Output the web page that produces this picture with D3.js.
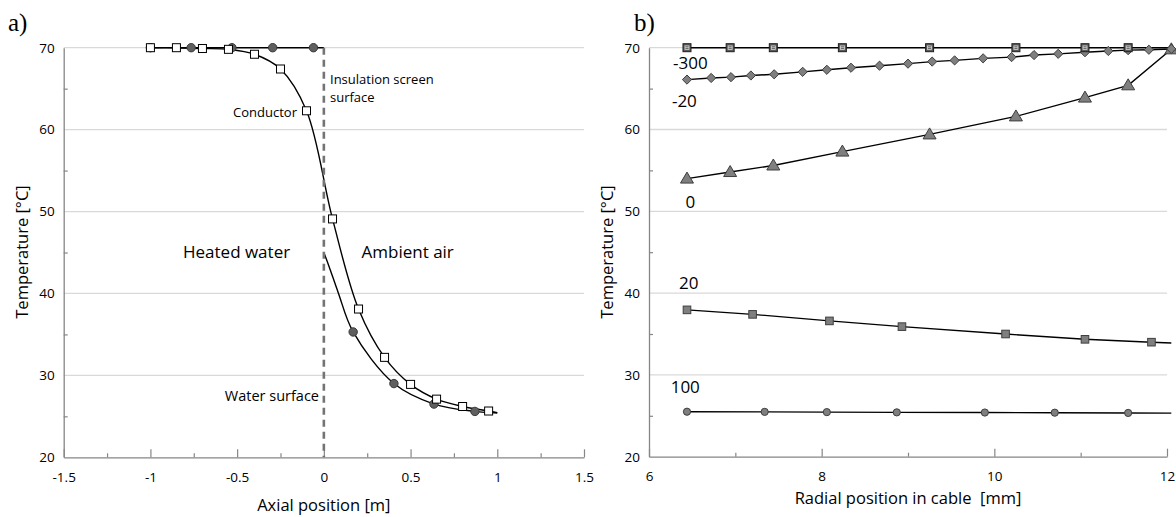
<!DOCTYPE html>
<html>
<head>
<meta charset="utf-8">
<script src="https://cdn.jsdelivr.net/npm/d3@7"></script>
<style>
  body { margin: 0; background: #fff; }
  text { font-family: "Open Sans", sans-serif; fill: #000; }
</style>
</head>
<body>
<svg width="1176" height="517"></svg>
<script>
// panel a) - axial temperature profile
var aCircleX = [-1, -0.765, -0.53, -0.295, -0.06, 0.169, 0.404, 0.635, 0.871];
var aCircleT = [70, 70, 70, 70, 70, 35.3, 29.0, 26.5, 25.6];
var aCircleTopX = [-1, 0];             // flat part above the water
var aCircleTopT = [70, 70];
var aCircleCurveX = [0, 0.03, 0.083, 0.169, 0.404, 0.635, 0.871, 1.0];
var aCircleCurveT = [45, 43.3, 40.1, 35.3, 29.0, 26.5, 25.6, 25.4];
var aSquareX = [-1, -0.85, -0.7, -0.55, -0.4, -0.25, -0.1, 0.05, 0.2, 0.35, 0.5, 0.65, 0.8, 0.95];
var aSquareT = [70, 70, 69.9, 69.8, 69.2, 67.4, 62.3, 49.1, 38.1, 32.2, 28.9, 27.1, 26.2, 25.65];
var aSquareEnd = [1.0, 25.45];
var aXTicks = [-1.5, -1, -0.5, 0, 0.5, 1, 1.5];
var aXMinor = [-1.25, -0.75, -0.25, 0.25, 0.75, 1.25];

// panel b) - radial profiles
var bX = [6.44, 6.94, 7.44, 8.24, 9.25, 10.25, 11.05, 11.55, 12.05];
var bM300 = [70, 70, 70, 70, 70, 70, 70, 70, 70];
var b0 = [54.0, 54.8, 55.6, 57.3, 59.4, 61.6, 63.9, 65.4, 69.8];
var bM20X = [6.44, 6.72, 6.95, 7.18, 7.45, 7.78, 8.06, 8.34, 8.67, 9.0, 9.28, 9.54, 9.87, 10.2, 10.46, 10.74, 11.05, 11.32, 11.55, 11.79, 12.05];
var bM20 = [66.1, 66.3, 66.4, 66.6, 66.75, 67.05, 67.3, 67.55, 67.8, 68.05, 68.3, 68.45, 68.7, 68.85, 69.1, 69.25, 69.45, 69.6, 69.7, 69.75, 69.85];
var b20X = [6.44, 7.2, 8.09, 8.93, 10.13, 11.05, 11.82];
var b20 = [37.95, 37.4, 36.6, 35.9, 35.0, 34.35, 34.0];
var b100X = [6.44, 7.34, 8.06, 8.87, 9.89, 10.7, 11.55];
var b100 = [25.5, 25.48, 25.45, 25.42, 25.4, 25.38, 25.35];
var bEndX = 12.05;
var bEndT = [33.9, 25.33];   // line ends for 20 and 100
var bXTicks = [6, 8, 10, 12];
var bXMinor = [7, 9, 11];

var yTicks = [20, 30, 40, 50, 60, 70];
var yMinor = [25, 35, 45, 55, 65];

var svg = d3.select("svg");
var axisCol = "#868686", gridCol = "#d9d9d9";

function zip(xs, ys) { return xs.map(function(x, i){ return [x, ys[i]]; }); }

function frame(g, x, y, xTicks, xMinor) {
  var x0 = x.range()[0], x1 = x.range()[1];
  // gridlines
  g.append("g").selectAll("line").data(yTicks.slice(1)).enter().append("line")
    .attr("x1", x0).attr("x2", x1)
    .attr("y1", function(d){ return y(d); }).attr("y2", function(d){ return y(d); })
    .attr("stroke", gridCol).attr("stroke-width", 1.3);

  var yax = g.append("g").attr("transform", "translate(" + x0 + ",0)")
    .call(d3.axisLeft(y).tickValues(yTicks).tickSize(0).tickPadding(9).tickFormat(String));
  yax.select(".domain").attr("stroke", axisCol).attr("stroke-width", 1.3);
  yax.selectAll("text").style("font-size", "13.5px").style("font-family", "Open Sans");

  g.append("g").attr("transform", "translate(" + x0 + ",0)")
    .call(d3.axisLeft(y).tickValues(yMinor).tickSize(-4).tickFormat(""))
    .call(function(s){ s.select(".domain").remove(); s.selectAll("line").attr("stroke", axisCol).attr("stroke-width", 1.2); });

  var xax = g.append("g").attr("transform", "translate(0," + y(20) + ")")
    .call(d3.axisBottom(x).tickValues(xTicks).tickSize(-8).tickSizeOuter(0).tickPadding(15).tickFormat(String));
  xax.select(".domain").attr("stroke", axisCol).attr("stroke-width", 1.3);
  xax.selectAll("line").attr("stroke", axisCol).attr("stroke-width", 1.2);
  xax.selectAll("text").style("font-size", "13.5px").style("font-family", "Open Sans");

  g.append("g").attr("transform", "translate(0," + y(20) + ")")
    .call(d3.axisBottom(x).tickValues(xMinor).tickSize(-4).tickFormat(""))
    .call(function(s){ s.select(".domain").remove(); s.selectAll("line").attr("stroke", axisCol).attr("stroke-width", 1.2); });
}

// ---------- panel a ----------
var xa = d3.scaleLinear().domain([-1.5, 1.5]).range([63.7, 584]);
var ya = d3.scaleLinear().domain([20, 70]).range([457.3, 47.7]);
var ga = svg.append("g");
frame(ga, xa, ya, aXTicks, aXMinor);

var la = d3.line().x(function(d){ return xa(d[0]); }).y(function(d){ return ya(d[1]); });
var smoothA = d3.line().curve(d3.curveCatmullRom.alpha(0.5))
  .x(function(d){ return xa(d[0]); }).y(function(d){ return ya(d[1]); });

ga.append("path").attr("d", la(zip(aCircleTopX, aCircleTopT)))
  .attr("fill", "none").attr("stroke", "#000").attr("stroke-width", 1.4);
ga.append("path").attr("d", smoothA(zip(aCircleCurveX, aCircleCurveT)))
  .attr("fill", "none").attr("stroke", "#000").attr("stroke-width", 1.4);
ga.append("path").attr("d", smoothA(zip(aSquareX, aSquareT).concat([aSquareEnd])))
  .attr("fill", "none").attr("stroke", "#000").attr("stroke-width", 1.4);

// dashed insulation screen / water surface line
ga.append("line")
  .attr("x1", xa(0)).attr("x2", xa(0)).attr("y1", ya(70)).attr("y2", ya(20))
  .attr("stroke", "#747474").attr("stroke-width", 2.6).attr("stroke-dasharray", "7,5");

ga.append("g").selectAll("circle").data(zip(aCircleX, aCircleT)).enter().append("circle")
  .attr("cx", function(d){ return xa(d[0]); }).attr("cy", function(d){ return ya(d[1]); })
  .attr("r", 4.2).attr("fill", "#5f5f5f").attr("stroke", "#3a3a3a").attr("stroke-width", 1);

ga.append("g").selectAll("rect").data(zip(aSquareX, aSquareT)).enter().append("rect")
  .attr("x", function(d){ return xa(d[0]) - 4; }).attr("y", function(d){ return ya(d[1]) - 4; })
  .attr("width", 8).attr("height", 8).attr("fill", "#fff").attr("stroke", "#000").attr("stroke-width", 1);

ga.append("text").attr("x", 297).attr("y", 117).attr("text-anchor", "end").style("font-size", "13px").text("Conductor");
ga.append("text").attr("x", 330).attr("y", 84).style("font-size", "13px").text("Insulation screen");
ga.append("text").attr("x", 330).attr("y", 101.5).style("font-size", "13px").text("surface");
ga.append("text").attr("x", 183).attr("y", 258).style("font-size", "17px").text("Heated water");
ga.append("text").attr("x", 361.5).attr("y", 258).style("font-size", "17px").text("Ambient air");
ga.append("text").attr("x", 319).attr("y", 401).attr("text-anchor", "end").style("font-size", "14.5px").text("Water surface");

ga.append("text").attr("x", xa(0)).attr("y", 511).attr("text-anchor", "middle").style("font-size", "16.5px").text("Axial position [m]");
ga.append("text").attr("transform", "translate(28,252) rotate(-90)").attr("text-anchor", "middle")
  .style("font-size", "16.5px").text("Temperature [°C]");
ga.append("text").attr("x", 8).attr("y", 31).style("font-family", "Liberation Serif").style("font-size", "25px").text("a)");

// ---------- panel b ----------
var xb = d3.scaleLinear().domain([6, 12]).range([649, 1167]);
var yb = d3.scaleLinear().domain([20, 70]).range([456.7, 47.7]);
var gb = svg.append("g");
frame(gb, xb, yb, bXTicks, bXMinor);

var lb = d3.line().x(function(d){ return xb(d[0]); }).y(function(d){ return yb(d[1]); });
function bLine(pts) {
  gb.append("path").attr("d", lb(pts)).attr("fill", "none").attr("stroke", "#000").attr("stroke-width", 1.4);
}
bLine(zip(b100X, b100).concat([[bEndX, bEndT[1]]]));
bLine(zip(b20X, b20).concat([[bEndX, bEndT[0]]]));
bLine(zip(bX, b0));
bLine(zip(bM20X, bM20));
bLine(zip(bX, bM300));

var mFill = "#7f7f7f", mStroke = "#3f3f3f";
// 100: circles
gb.append("g").selectAll("circle").data(zip(b100X, b100)).enter().append("circle")
  .attr("cx", function(d){ return xb(d[0]); }).attr("cy", function(d){ return yb(d[1]); })
  .attr("r", 3.6).attr("fill", mFill).attr("stroke", mStroke).attr("stroke-width", 1);
// 20: squares
gb.append("g").selectAll("rect").data(zip(b20X, b20)).enter().append("rect")
  .attr("x", function(d){ return xb(d[0]) - 3.8; }).attr("y", function(d){ return yb(d[1]) - 3.8; })
  .attr("width", 7.6).attr("height", 7.6).attr("fill", mFill).attr("stroke", mStroke).attr("stroke-width", 1);
// 0: triangles
gb.append("g").selectAll("path").data(zip(bX, b0)).enter().append("path")
  .attr("transform", function(d){ return "translate(" + xb(d[0]) + "," + yb(d[1]) + ")"; })
  .attr("d", "M0,-6.5L6.5,4.5L-6.5,4.5Z").attr("fill", mFill).attr("stroke", mStroke).attr("stroke-width", 1);
// -20: diamonds
gb.append("g").selectAll("path").data(zip(bM20X, bM20)).enter().append("path")
  .attr("transform", function(d){ return "translate(" + xb(d[0]) + "," + yb(d[1]) + ")"; })
  .attr("d", "M0,-4.6L4.6,0L0,4.6L-4.6,0Z").attr("fill", mFill).attr("stroke", mStroke).attr("stroke-width", 1);
// -300: patterned squares
var m300 = gb.append("g").selectAll("g").data(zip(bX, bM300).slice(0, 8)).enter().append("g")
  .attr("transform", function(d){ return "translate(" + xb(d[0]) + "," + yb(d[1]) + ")"; });
m300.append("rect").attr("x", -4).attr("y", -4).attr("width", 8).attr("height", 8)
  .attr("fill", "#5a5a5a").attr("stroke", "#1f1f1f").attr("stroke-width", 1);
m300.append("rect").attr("x", -2).attr("y", -1.8).attr("width", 4).attr("height", 3.6)
  .attr("fill", "none").attr("stroke", "#d8d8d8").attr("stroke-width", 0.8);
m300.append("line").attr("x1", -2).attr("x2", 2).attr("y1", 0).attr("y2", 0)
  .attr("stroke", "#d8d8d8").attr("stroke-width", 0.8);

// series labels
var bLabels = ["-300", "-20", "0", "20", "100"];
var bLabelX = [6.48, 6.41, 6.48, 6.46, 6.42];
var bLabelT = [68.1, 63.5, 51.2, 41.2, 28.5];
gb.append("g").selectAll("text").data(bLabels).enter().append("text")
  .attr("x", function(d, i){ return xb(bLabelX[i]); })
  .attr("y", function(d, i){ return yb(bLabelT[i]); })
  .attr("text-anchor", "middle").attr("dy", "0.36em").style("font-size", "17px")
  .text(function(d){ return d; });

gb.append("text").attr("x", 908).attr("y", 504).attr("text-anchor", "middle").attr("xml:space", "preserve")
  .style("font-size", "16.5px").style("white-space", "pre").text("Radial position in cable  [mm]");
gb.append("text").attr("transform", "translate(613,252) rotate(-90)").attr("text-anchor", "middle")
  .style("font-size", "16.5px").text("Temperature [°C]");
gb.append("text").attr("x", 634).attr("y", 31).style("font-family", "Liberation Serif").style("font-size", "25px").text("b)");
</script>
</body>
</html>
